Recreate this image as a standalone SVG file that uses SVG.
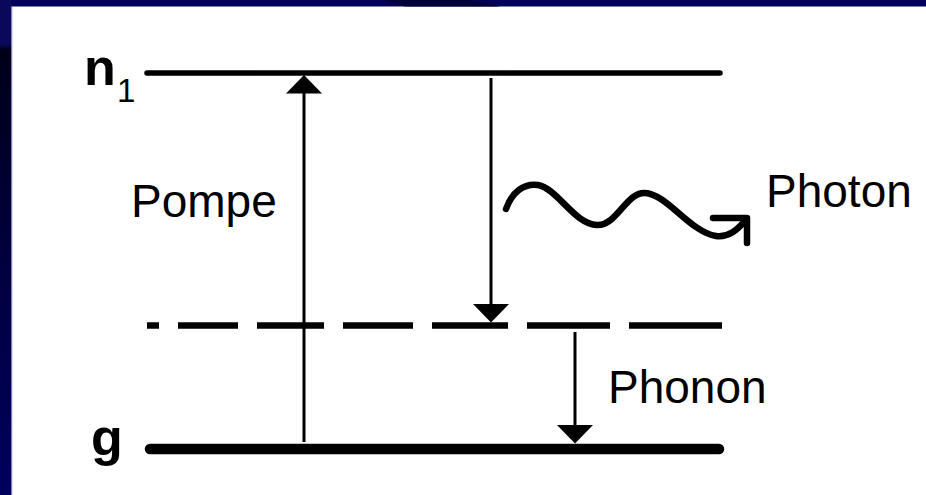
<svg xmlns="http://www.w3.org/2000/svg" width="926" height="495" viewBox="0 0 926 495">
<style>
.lbl{font-family:"Liberation Sans",Arial,sans-serif;font-size:46px;fill:#000}
.big{font-family:"Liberation Sans",Arial,sans-serif;font-weight:bold;fill:#000}
.lvl{stroke:#000;fill:none}
.shaft{stroke:#000;stroke-width:3;fill:none}
.head{fill:#000}
</style>
<defs>
<linearGradient id="lg" x1="0" y1="0" x2="0" y2="1">
<stop offset="0" stop-color="#0a0858"/>
<stop offset="0.09" stop-color="#0a0858"/>
<stop offset="0.1" stop-color="#000018"/>
<stop offset="0.45" stop-color="#000038"/>
<stop offset="1" stop-color="#00005e"/>
</linearGradient>
</defs>
<rect x="0" y="0" width="926" height="495" fill="#ffffff"/>
<g id="frame">
<rect x="0" y="0" width="926" height="6.5" fill="#03005a"/>
<polygon points="385,0 470,0 500,6.5 405,6.5" fill="#00003a"/>
<rect x="0" y="0" width="11.5" height="495" fill="url(#lg)"/>
<line x1="11.8" y1="6.5" x2="11.8" y2="495" stroke="#8080d0" stroke-width="0.8"/>
</g>
<g id="level-n1">
<line class="lvl" x1="147" y1="73" x2="720" y2="73" stroke-width="5.5" stroke-linecap="round"/>
<text class="big" x="84" y="85" font-size="52">n</text>
<text class="lbl" x="117" y="102" font-size="33" style="font-size:33px">1</text>
</g>
<g id="level-virtual">
<g class="lvl" stroke-width="6.5">
<line x1="147" y1="325.5" x2="159" y2="325.5"/>
<line x1="178" y1="325.5" x2="238" y2="325.5"/>
<line x1="257" y1="325.5" x2="324" y2="325.5"/>
<line x1="343" y1="325.5" x2="413" y2="325.5"/>
<line x1="432" y1="325.5" x2="508" y2="325.5"/>
<line x1="527" y1="325.5" x2="610" y2="325.5"/>
<line x1="629" y1="325.5" x2="722" y2="325.5"/>
</g>
</g>
<g id="level-g">
<line class="lvl" x1="150" y1="449" x2="719" y2="449" stroke-width="10.5" stroke-linecap="round"/>
<text class="big" x="91" y="455" font-size="52">g</text>
</g>
<g id="connectors">
<g id="pompe">
<line class="shaft" x1="304" y1="92" x2="304" y2="442"/>
<polygon class="head" points="304,75 286,93.5 322,93.5"/>
</g>
<g id="emission">
<line class="shaft" x1="491" y1="78" x2="491" y2="307"/>
<polygon class="head" points="491,322.5 473,304 509,304"/>
</g>
<g id="phonon">
<line class="shaft" x1="575" y1="332" x2="575" y2="427"/>
<polygon class="head" points="575,443.5 557,425 593,425"/>
</g>
<g id="photon-wave" fill="none" stroke="#000" stroke-width="6.5" stroke-linecap="round" stroke-linejoin="round">
<path d="M506,209 C512,192 524,183 538,185 C558,189 574,224 597,225 C617,226 626,192 645,193 C667,194 690,232 716,236 C731,238 740,226 746,220"/>
<path d="M713,218 L747,218 L747,243"/>
</g>
</g>
<g id="labels">
<text class="lbl" x="131" y="217">Pompe</text>
<text class="lbl" x="766" y="207">Photon</text>
<text class="lbl" x="608" y="403">Phonon</text>
</g>
</svg>
